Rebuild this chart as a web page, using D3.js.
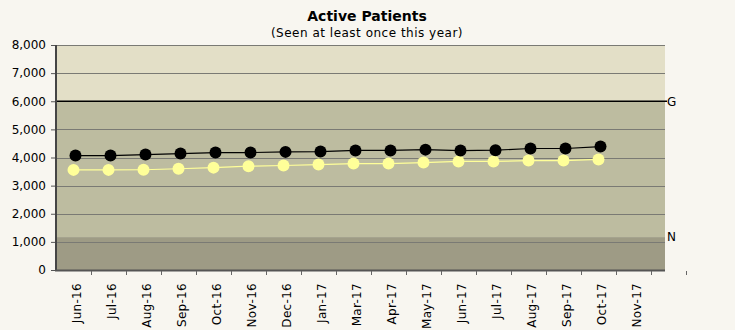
<!DOCTYPE html>
<html>
<head>
<meta charset="utf-8">
<script src="https://cdn.jsdelivr.net/npm/d3@7"></script>
<style>
  html, body { margin: 0; padding: 0; background: #F8F6F0; }
  svg { display: block; font-family: "DejaVu Sans", Verdana, sans-serif; }
</style>
</head>
<body>
<svg id="chart" width="735" height="330"></svg>
<script>
// Month labels (no Feb-17 entry in the source data)
const months = ["Jun-16","Jul-16","Aug-16","Sep-16","Oct-16","Nov-16","Dec-16","Jan-17",
                "Mar-17","Apr-17","May-17","Jun-17","Jul-17","Aug-17","Sep-17","Oct-17","Nov-17"];
// Active patients, two series (Nov-17 not yet reported)
const seriesDark  = [4070,4070,4105,4140,4175,4175,4200,4210,4250,4250,4280,4245,4260,4320,4320,4390,null];
const seriesLight = [3560,3560,3565,3600,3640,3690,3715,3750,3785,3785,3820,3860,3860,3890,3890,3930,null];
const yTicks = [0,1000,2000,3000,4000,5000,6000,7000,8000];
// Reference levels
const goalLevel = 6000;   // "G"
const normLevel = 1170;   // "N"
const yMax = 8000;

const svg = d3.select("#chart");
const plotLeft = 56, plotRight = 665, plotTop = 45, plotBottom = 270;

// One trailing empty slot on the category axis
const x = d3.scaleBand().domain(months.concat([""])).range([plotLeft, plotLeft + 35 * 18]);
const y = d3.scaleLinear().domain([0, yMax]).range([plotBottom, plotTop]);

// Background bands
svg.append("rect").attr("x", plotLeft).attr("width", plotRight - plotLeft)
  .attr("y", y(yMax)).attr("height", y(goalLevel) - y(yMax)).attr("fill", "#E3DFC7");
svg.append("rect").attr("x", plotLeft).attr("width", plotRight - plotLeft)
  .attr("y", y(goalLevel)).attr("height", y(normLevel) - y(goalLevel)).attr("fill", "#BDBCA0");
svg.append("rect").attr("x", plotLeft).attr("width", plotRight - plotLeft)
  .attr("y", y(normLevel)).attr("height", y(0) - y(normLevel)).attr("fill", "#9E9B85");

// Gridlines
svg.append("g").selectAll("line").data(yTicks.filter(d => d > 0)).join("line")
  .attr("x1", plotLeft).attr("x2", plotRight)
  .attr("y1", d => Math.round(y(d)) + 0.5).attr("y2", d => Math.round(y(d)) + 0.5)
  .attr("stroke", "#7A7A74").attr("stroke-width", 1);

// Goal line
svg.append("line").attr("x1", plotLeft).attr("x2", plotRight + 2)
  .attr("y1", y(goalLevel)).attr("y2", y(goalLevel))
  .attr("stroke", "#000").attr("stroke-width", 1.6);
svg.append("text").attr("x", plotRight + 2).attr("y", y(goalLevel)).attr("dy", "0.36em")
  .attr("font-size", 12).attr("fill", "#000").text("G");
svg.append("text").attr("x", plotRight + 2).attr("y", y(normLevel)).attr("dy", "0.36em")
  .attr("font-size", 12).attr("fill", "#000").text("N");

// Y axis
const yAxis = d3.axisLeft(y).tickValues(yTicks).tickSize(4).tickPadding(5)
  .tickFormat(d3.format(","));
const gy = svg.append("g").attr("transform", `translate(${plotLeft - 1},0)`).call(yAxis);
gy.select(".domain").remove();
gy.selectAll(".tick line").attr("stroke", "#555");
gy.selectAll("text").attr("font-size", 12).attr("font-family", "DejaVu Sans, Verdana, sans-serif").attr("fill", "#000");
svg.append("line").attr("x1", plotLeft).attr("x2", plotLeft).attr("y1", plotTop).attr("y2", plotBottom + 1)
  .attr("stroke", "#454545").attr("stroke-width", 2);

// X axis baseline
svg.append("line").attr("x1", plotLeft - 1).attr("x2", plotRight).attr("y1", plotBottom + 0.5).attr("y2", plotBottom + 0.5)
  .attr("stroke", "#555").attr("stroke-width", 2);

// X ticks at category boundaries
const boundaries = x.domain().map(d => x(d)).slice(1).concat([x.range()[1]]);
svg.append("g").selectAll("line").data(boundaries).join("line")
  .attr("x1", d => d + 0.5).attr("x2", d => d + 0.5)
  .attr("y1", plotBottom + 1).attr("y2", plotBottom + 5)
  .attr("stroke", "#666");

// X labels, rotated
svg.append("g").selectAll("text").data(months).join("text")
  .attr("transform", d => `translate(${x(d) + x.bandwidth() / 2 + 3.5},${plotBottom + 13}) rotate(-90)`)
  .attr("text-anchor", "end").attr("dy", "0.36em")
  .attr("font-size", 12).attr("letter-spacing", 0.3).attr("fill", "#000").text(d => d);

// Series
function drawSeries(values, color, dx) {
  const pts = months.map((m, i) => ({ m, v: values[i] })).filter(p => p.v != null);
  const line = d3.line().x(p => x(p.m) + x.bandwidth() / 2 + dx).y(p => y(p.v));
  svg.append("path").datum(pts).attr("d", line)
    .attr("fill", "none").attr("stroke", color).attr("stroke-width", 1.2);
  svg.append("g").selectAll("circle").data(pts).join("circle")
    .attr("cx", p => x(p.m) + x.bandwidth() / 2 + dx).attr("cy", p => y(p.v))
    .attr("r", 6).attr("fill", color);
}
drawSeries(seriesLight, "#FFFF99", 0);
drawSeries(seriesDark, "#000000", 2);

// Titles
svg.append("text").attr("x", 367).attr("y", 21).attr("text-anchor", "middle")
  .attr("font-size", 14).attr("font-weight", "bold").attr("fill", "#000").text("Active Patients");
svg.append("text").attr("x", 367).attr("y", 37).attr("text-anchor", "middle")
  .attr("font-size", 12).attr("letter-spacing", 0.5).attr("fill", "#000").text("(Seen at least once this year)");
</script>
</body>
</html>
